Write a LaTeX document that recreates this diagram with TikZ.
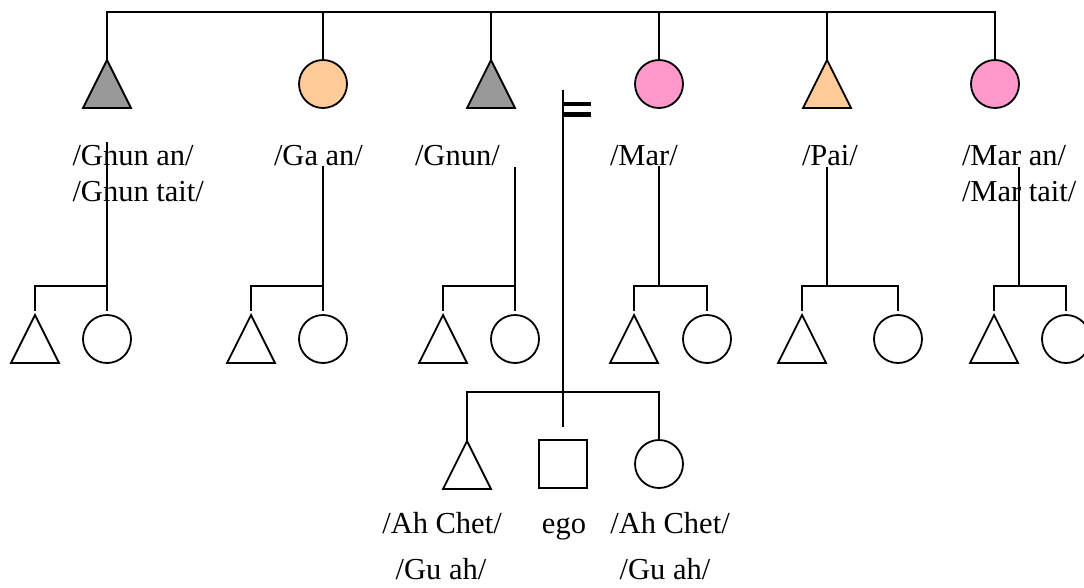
\documentclass[tikz,border=0pt]{standalone}
\usepackage{fontspec}
\setmainfont{Liberation Serif}
\usetikzlibrary{calc}
\definecolor{kgray}{HTML}{999999}
\definecolor{korange}{HTML}{FFCC99}
\definecolor{kpink}{HTML}{FF99CC}
\newcommand\kinTri[3]{\node[shapebox] (#1) at (#2) {};
  \draw[fill=#3] (#1.north) -- (#1.south east) -- (#1.south west) -- cycle;}
\begin{document}
\begin{tikzpicture}[x=1pt,y=-1pt,line width=1.8pt,
  shapebox/.style={rectangle,minimum size=48pt,inner sep=0pt,outer sep=0pt},
  circ/.style={circle,draw,minimum size=48pt,inner sep=0pt,outer sep=0pt},
  lbl/.style={inner sep=0pt,outer sep=0pt,font=\fontsize{30.5}{36}\selectfont}]
\useasboundingbox (0,0) rectangle (1084,587);
\clip (0,0) rectangle (1084,587);
% top generation
\kinTri{t1}{107,84}{kgray}
\node[circ,fill=korange] (t2) at (323,84) {};
\kinTri{t3}{491,84}{kgray}
\node[circ,fill=kpink] (t4) at (659,84) {};
\kinTri{t5}{827,84}{korange}
\node[circ,fill=kpink] (t6) at (995,84) {};
\coordinate (topbar) at (0,12);
\draw (t1.north) -- (t1.north |- topbar) -- (t6.north |- topbar) -- (t6.north);
\foreach \n in {t2,t3,t4,t5} \draw (\n.north) -- (\n.north |- topbar);
% labels
\node[lbl,anchor=base west] (l1a) at (72.5,165) {/Gnun an/};
\node[lbl,anchor=base west] (l1b) at (72.5,201) {/Gnun tait/};
\node[lbl,anchor=base west] (l2) at (274,165) {/Ga an/};
\node[lbl,anchor=base west] (l3) at (415,165) {/Gnun/};
\node[lbl,anchor=base west] (l4) at (610,165) {/Mar/};
\node[lbl,anchor=base west] (l5) at (802,165) {/Pai/};
\node[lbl,anchor=base west] (l6a) at (962,165) {/Mar an/};
\node[lbl,anchor=base west] (l6b) at (962,201) {/Mar tait/};
% children of each
\coordinate (cbar) at (0,286);
\kinTri{a1}{35,339}{none}   \node[circ] (b1) at (107,339) {};
\kinTri{a2}{251,339}{none}  \node[circ] (b2) at (323,339) {};
\kinTri{a3}{443,339}{none}  \node[circ] (b3) at (515,339) {};
\kinTri{a4}{634,339}{none}  \node[circ] (b4) at (707,339) {};
\kinTri{a5}{802,339}{none}  \node[circ] (b5) at (898,339) {};
\kinTri{a6}{994,339}{none}  \node[circ] (b6) at (1066,339) {};
\coordinate (s1) at (107,142);
\coordinate (s2) at (323,166);
\coordinate (s3) at (515,167);
\coordinate (s4) at (659,166);
\coordinate (s5) at (827,167);
\coordinate (s6) at (1019,167);
\foreach \i in {1,2,3}{
  \draw[shorten >=4pt] (s\i) -- (b\i.north);
  \draw[shorten <=4pt] (a\i.north) -- (a\i.north |- cbar) -- (b\i.north |- cbar);
}
\foreach \i in {4,5,6}{
  \draw (s\i) -- (s\i |- cbar);
  \draw[shorten <=4pt,shorten >=4pt] (a\i.north) -- (a\i.north |- cbar) -- (b\i.north |- cbar) -- (b\i.north);
}
% marriage and ego
\coordinate (m) at (563,90);
\draw[line width=4.6pt] (564,104) -- (591,104);
\draw[line width=4.6pt] (564,114.5) -- (591,114.5);
\node[shapebox,draw] (ego) at (563,464) {};
\kinTri{e1}{467,465}{none}
\node[circ] (e2) at (659,464) {};
\coordinate (ebar) at (0,392);
\draw[shorten >=13pt] (m) -- (ego.north);
\draw (e1.north) -- (e1.north |- ebar) -- (e2.north |- ebar) -- (e2.north);
\node[lbl,anchor=base] (n1) at (442,533) {/Ah Chet/};
\node[lbl,anchor=base] (n2) at (564,533) {ego};
\node[lbl,anchor=base] (n3) at (670,533) {/Ah Chet/};
\node[lbl,anchor=base] (n4) at (441,579) {/Gu ah/};
\node[lbl,anchor=base] (n5) at (665,579) {/Gu ah/};
\end{tikzpicture}
\end{document}
